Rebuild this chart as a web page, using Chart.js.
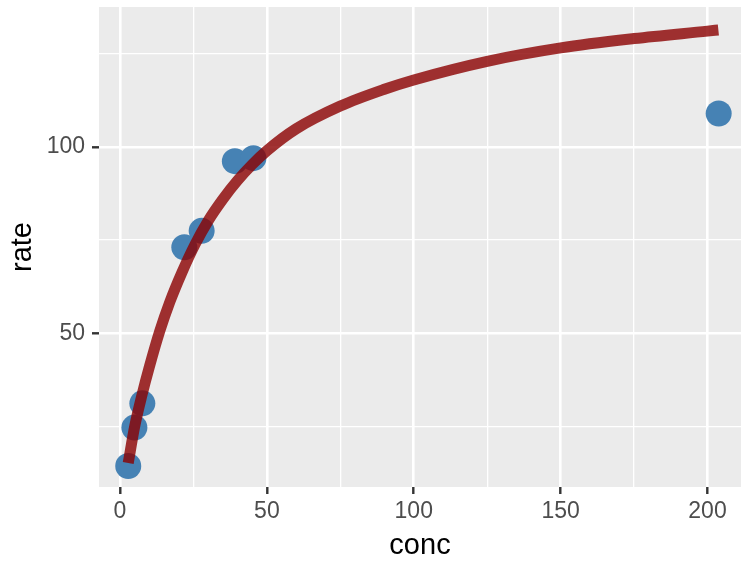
<!DOCTYPE html>
<html>
<head>
<meta charset="utf-8">
<script src="https://cdn.jsdelivr.net/npm/chart.js@4/dist/chart.umd.min.js"></script>
<style>
  html, body { margin: 0; padding: 0; background: #ffffff; }
  #wrap { width: 741px; height: 564px; position: relative; }
</style>
</head>
<body>
<div id="wrap"><canvas id="c" width="741" height="564"></canvas></div>
<script>
// Observed points
const concPoints = [2.8, 4.9, 7.6, 21.9, 27.8, 39.1, 45.4, 203.8];
const ratePoints = [14.4, 24.7, 31.2, 73.1, 77.5, 96.2, 97.0, 109.0];

// Fitted curve
const curveConc = [2.8, 5, 7.5, 10, 13.5, 17, 21, 25.5, 30, 35, 40, 45, 50, 60, 75, 90, 100, 125, 150, 175, 200, 203.7];
const curveRate = [15.2, 25.0, 33.5, 41.0, 50.5, 58.5, 66.2, 73.8, 80.2, 86.0, 91.0, 95.3, 99.0, 104.9, 111.0, 115.5, 118.0, 123.0, 126.6, 129.1, 131.1, 131.4];

// Axis ticks (majors carry labels, the rest are minor grid lines)
const xTickValues = [0, 25, 50, 75, 100, 125, 150, 175, 200];
const xTickLabels = [0, 50, 100, 150, 200];
const yTickValues = [25, 50, 75, 100, 125];
const yTickLabels = [50, 100];

const xTitle = 'conc';
const yTitle = 'rate';

const panelBg = {
  id: 'panelBg',
  beforeDraw(chart) {
    const a = chart.chartArea;
    const ctx = chart.ctx;
    ctx.save();
    ctx.fillStyle = '#EBEBEB';
    ctx.fillRect(a.left, a.top, a.right - a.left, a.bottom - a.top);
    ctx.restore();
  }
};

const curveData = curveConc.map((x, i) => ({ x: x, y: curveRate[i] }));
const pointData = concPoints.map((x, i) => ({ x: x, y: ratePoints[i] }));

function gridOpts(labels) {
  return {
    color: '#FFFFFF',
    lineWidth: (c) => (c.tick && labels.includes(c.tick.value)) ? 2.6 : 1.3,
    tickColor: (c) => (c.tick && labels.includes(c.tick.value)) ? '#333333' : 'rgba(0,0,0,0)',
    tickWidth: 2.4,
    tickLength: 7,
    drawTicks: true
  };
}

new Chart(document.getElementById('c'), {
  type: 'scatter',
  data: {
    datasets: [
      {
        type: 'line',
        data: curveData,
        borderColor: 'rgba(139,0,0,0.8)',
        backgroundColor: 'rgba(139,0,0,0.8)',
        borderWidth: 11,
        pointRadius: 0,
        fill: false,
        cubicInterpolationMode: 'monotone',
        borderCapStyle: 'butt',
        borderJoinStyle: 'round'
      },
      {
        type: 'scatter',
        data: pointData,
        backgroundColor: '#4682B4',
        borderWidth: 0,
        pointRadius: 13,
        pointHoverRadius: 13
      }
    ]
  },
  options: {
    responsive: false,
    animation: false,
    events: [],
    layout: { autoPadding: false, padding: { top: 7, right: 0, left: 0, bottom: 0 } },
    plugins: { legend: { display: false }, tooltip: { enabled: false } },
    scales: {
      x: {
        type: 'linear',
        min: -7.15,
        max: 211.4,
        afterBuildTicks: (s) => { s.ticks = xTickValues.map(v => ({ value: v })); },
        afterFit: (s) => { s.height = 77; s.paddingLeft = 0; s.paddingRight = 0; },
        border: { display: false },
        grid: gridOpts(xTickLabels),
        ticks: {
          autoSkip: false,
          maxRotation: 0,
          padding: 4,
          color: '#4D4D4D',
          font: { family: 'Liberation Sans, Arial, sans-serif', size: 23 },
          callback: (v) => xTickLabels.includes(v) ? String(v) : ''
        },
        title: {
          display: true,
          text: xTitle,
          color: '#000000',
          font: { family: 'Liberation Sans, Arial, sans-serif', size: 29 },
          padding: { top: 0, bottom: 1 }
        }
      },
      y: {
        type: 'linear',
        min: 8.75,
        max: 137.57,
        afterBuildTicks: (s) => { s.ticks = yTickValues.map(v => ({ value: v })); },
        afterFit: (s) => { s.width = 99; s.paddingTop = 0; s.paddingBottom = 0; },
        border: { display: false },
        grid: gridOpts(yTickLabels),
        ticks: {
          autoSkip: false,
          padding: 7,
          color: '#4D4D4D',
          font: { family: 'Liberation Sans, Arial, sans-serif', size: 23 },
          callback: (v) => yTickLabels.includes(v) ? String(v) : ''
        },
        title: {
          display: true,
          text: yTitle,
          color: '#000000',
          font: { family: 'Liberation Sans, Arial, sans-serif', size: 29 },
          padding: { top: 6, bottom: 0 }
        }
      }
    }
  },
  plugins: [panelBg]
});
</script>
</body>
</html>
